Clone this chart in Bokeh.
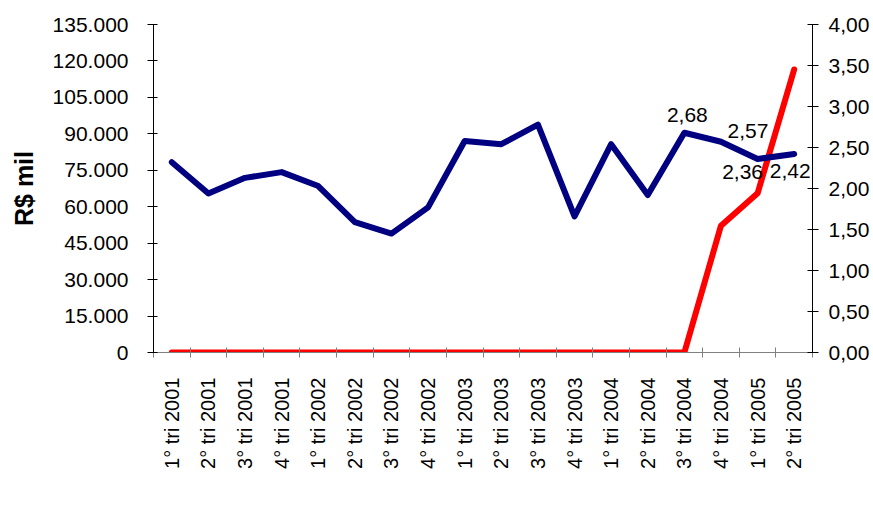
import math
import numpy as np
from bokeh.plotting import figure
from bokeh.models import (ColumnDataSource, Range1d, LinearAxis, FixedTicker,
                          Legend, LegendItem)
from bokeh.core.properties import value
from bokeh.embed import file_html
from bokeh.resources import INLINE

# ---------------- data ----------------
categories = ["1° tri 2001", "2° tri 2001", "3° tri 2001", "4° tri 2001",
              "1° tri 2002", "2° tri 2002", "3° tri 2002", "4° tri 2002",
              "1° tri 2003", "2° tri 2003", "3° tri 2003", "4° tri 2003",
              "1° tri 2004", "2° tri 2004", "3° tri 2004", "4° tri 2004",
              "1° tri 2005", "2° tri 2005"]
cessao_creditos = [0, 0, 0, 0, 0, 0, 0, 0, 0, 0, 0, 0, 0, 0, 0,
                   52200, 65500, 116500]
alavancagem = [2.32, 1.94, 2.13, 2.20, 2.03, 1.59, 1.45, 1.77, 2.58, 2.54,
               2.78, 1.66, 2.54, 1.92, 2.68, 2.57, 2.36, 2.42]
left_ticks = [0, 15000, 30000, 45000, 60000, 75000, 90000, 105000, 120000, 135000]
left_tick_labels = ["0", "15.000", "30.000", "45.000", "60.000", "75.000",
                    "90.000", "105.000", "120.000", "135.000"]
right_ticks = [0.0, 0.5, 1.0, 1.5, 2.0, 2.5, 3.0, 3.5, 4.0]
right_tick_labels = ["0,00", "0,50", "1,00", "1,50", "2,00", "2,50", "3,00",
                     "3,50", "4,00"]
labeled_categories = ["3° tri 2004", "4° tri 2004", "1° tri 2005", "2° tri 2005"]

# label placement (screen px offsets, styling only)
label_dx = [3, 27, -15, -4]
label_dy = [-18, -11, 13, 17]

FONT = "Liberation Sans"

# category index -> centre of slot on a numeric axis
n = len(categories)
centers = [i + 0.5 for i in range(n)]
boundaries = [float(i) for i in range(n + 1)]

src = ColumnDataSource(dict(x=centers, cessao=cessao_creditos, alav=alavancagem))

lbl_idx = [categories.index(c) for c in labeled_categories]
lbl_src = ColumnDataSource(dict(
    x=[centers[i] for i in lbl_idx],
    y=[alavancagem[i] for i in lbl_idx],
    text=[f"{alavancagem[i]:.2f}".replace(".", ",") for i in lbl_idx],
    dx=label_dx, dy=label_dy))

p = figure(width=873, height=520, frame_width=659, frame_height=328,
           x_range=Range1d(0, n), y_range=Range1d(0, 135000),
           output_backend="svg", toolbar_location=None,
           min_border_left=153, min_border_right=61,
           min_border_top=24, min_border_bottom=166)
p.extra_y_ranges = {"right": Range1d(0, 4)}
p.outline_line_color = None
p.xgrid.visible = False
p.ygrid.visible = False
p.background_fill_color = "white"
p.border_fill_color = "white"

# x axis
xa = p.xaxis[0]
xa.ticker = FixedTicker(ticks=centers, minor_ticks=boundaries)
xa.major_label_overrides = {c: lab for c, lab in zip(centers, categories)}
xa.major_label_orientation = math.pi / 2
xa.major_tick_in = 0
xa.major_tick_out = 0
xa.major_tick_line_color = None
xa.minor_tick_in = 5
xa.minor_tick_out = 5
xa.minor_tick_line_color = "#808080"
xa.axis_line_color = "#808080"
xa.major_label_standoff = 20
xa.major_label_text_font = FONT
xa.major_label_text_font_size = "20px"
xa.major_label_text_color = "black"

# left axis
ya = p.yaxis[0]
ya.ticker = FixedTicker(ticks=left_ticks, minor_ticks=[])
ya.major_label_overrides = {t: lab for t, lab in zip(left_ticks, left_tick_labels)}
ya.major_tick_in = 4
ya.major_tick_out = 6
ya.minor_tick_line_color = None
ya.axis_line_color = "black"
ya.major_tick_line_color = "black"
ya.major_label_standoff = 19
ya.major_label_text_font = FONT
ya.major_label_text_font_size = "21px"
ya.major_label_text_color = "black"
ya.axis_label = "R$ mil"
ya.axis_label_text_font = FONT
ya.axis_label_text_font_style = "bold"
ya.axis_label_text_font_size = "25px"
ya.axis_label_text_color = "black"
ya.axis_label_standoff = 12

# right axis
ra = LinearAxis(y_range_name="right",
                ticker=FixedTicker(ticks=right_ticks, minor_ticks=[]))
ra.major_label_overrides = {t: lab for t, lab in zip(right_ticks, right_tick_labels)}
ra.major_tick_in = 5
ra.major_tick_out = 6
ra.minor_tick_line_color = None
ra.axis_line_color = "black"
ra.major_tick_line_color = "black"
ra.major_label_standoff = 10
ra.major_label_text_font = FONT
ra.major_label_text_font_size = "21px"
ra.major_label_text_color = "black"
p.add_layout(ra, "right")

# lines
r_red = p.line("x", "cessao", source=src, line_color="#FF0000", line_width=6,
               line_join="round", line_cap="round")
r_blue = p.line("x", "alav", source=src, y_range_name="right",
                line_color="#000080", line_width=6,
                line_join="round", line_cap="round")

# data labels
p.text("x", "y", text="text", source=lbl_src, y_range_name="right",
       x_offset="dx", y_offset="dy",
       text_font=value(FONT), text_font_size=value("21px"),
       text_align="center", text_baseline="middle", text_color="black")

legend = Legend(items=[LegendItem(label="Cessão de créditos", renderers=[r_red]),
                       LegendItem(label="Alavancagem", renderers=[r_blue])],
                orientation="horizontal", location="top_center",
                padding=0, margin=0, spacing=16,
                glyph_width=58, glyph_height=20, label_standoff=5,
                label_text_font=FONT, label_text_font_size="25px",
                label_text_color="black",
                border_line_color=None, background_fill_alpha=0)
p.add_layout(legend, "below")

open("out.html", "w").write(file_html(p, INLINE))
